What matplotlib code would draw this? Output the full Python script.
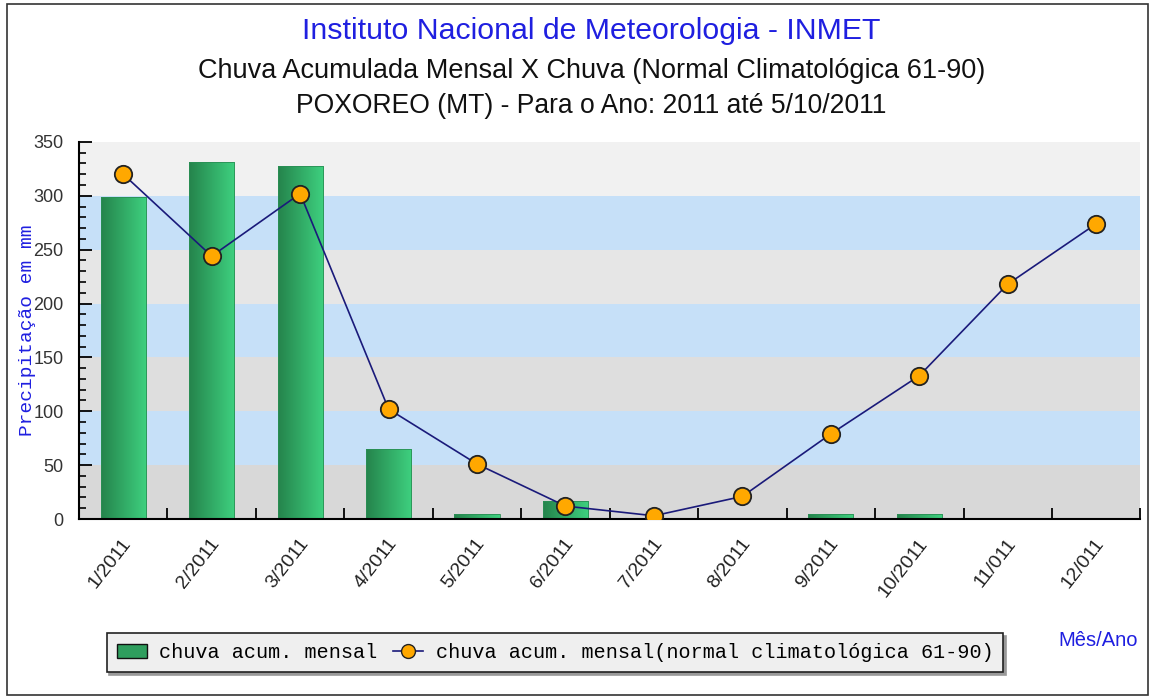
import matplotlib
matplotlib.use('Agg')
import matplotlib.pyplot as plt
import numpy as np
from matplotlib.patches import Rectangle

meses = ['1/2011', '2/2011', '3/2011', '4/2011', '5/2011', '6/2011',
         '7/2011', '8/2011', '9/2011', '10/2011', '11/011', '12/011']
chuva_mensal = [299, 331, 328, 65, 5, 17, 0, 0, 5, 5, 0, 0]
chuva_normal = [320, 244, 302, 102, 51, 12, 3, 21, 79, 133, 218, 274]

BLUE_TXT = '#1f1fe0'
SANS = ['Liberation Sans', 'DejaVu Sans']
MONO = ['Liberation Mono', 'DejaVu Sans Mono']

fig = plt.figure(figsize=(11.55, 6.99), dpi=100)
fig.patch.set_facecolor('white')
ax = fig.add_axes([0.0684, 0.2575, 0.919, 0.5395])

x = np.arange(len(meses))

# faixas de fundo
bands = ['#d8d8d8', '#c6e0f8', '#dedede', '#c6e0f8', '#e6e6e6', '#c6e0f8', '#f1f1f1']
for i, c in enumerate(bands):
    ax.axhspan(i * 50, (i + 1) * 50, color=c, zorder=0, lw=0)

# barras com gradiente
bars = ax.bar(x, chuva_mensal, width=0.51, color='none', edgecolor='#2a8f55',
              linewidth=0.6, zorder=2)
grad = np.linspace(0, 1, 64).reshape(1, -1)
cmap = matplotlib.colors.LinearSegmentedColormap.from_list('g', ['#25844c', '#3ed07f'])
for b in bars:
    h = b.get_height()
    if h <= 0:
        continue
    x0 = b.get_x()
    w = b.get_width()
    im = ax.imshow(grad, cmap=cmap, aspect='auto', extent=(x0, x0 + w, 0, h), zorder=1.5)
    im.set_clip_path(b)
ax.set_xlim(-0.5, len(meses) - 0.5)
ax.set_ylim(0, 350)

ax.plot(x, chuva_normal, color='#1a1a7a', lw=1.2, marker='o', markersize=12.5,
        markerfacecolor='#ffa800', markeredgecolor='#222222', markeredgewidth=1.3, zorder=3)

# eixos
for s in ['top', 'right']:
    ax.spines[s].set_visible(False)
ax.spines['left'].set_linewidth(1.5)
ax.spines['bottom'].set_linewidth(1.5)
ax.set_yticks(np.arange(0, 351, 50))
ax.set_yticks(np.arange(0, 351, 10), minor=True)
ax.tick_params(axis='y', which='major', direction='in', length=9, width=1.3,
               labelsize=13, labelcolor='#333333', pad=11)
ax.tick_params(axis='y', which='minor', direction='in', length=5, width=1.2)
for lbl in ax.get_yticklabels():
    lbl.set_family(SANS)

ax.set_xticks(np.arange(0.5, len(meses) - 0.5 + 0.01, 1.0))
ax.set_xticklabels([])
ax.tick_params(axis='x', direction='in', length=8, width=1.3)
for xi, m in zip(x, meses):
    ax.text(xi - 0.02, -15, m, rotation=52, ha='right', va='top', fontsize=14,
            family=SANS, color='#222222', rotation_mode='anchor')

ax.set_ylabel('Precipitação em mm', family=MONO, fontsize=14, color=BLUE_TXT, labelpad=-2)

# títulos
fig.text(0.512, 0.955, 'Instituto Nacional de Meteorologia - INMET', ha='center', va='center',
         fontsize=21.8, color=BLUE_TXT, family=SANS)
fig.text(0.512, 0.898, 'Chuva Acumulada Mensal X Chuva (Normal Climatológica 61-90)',
         ha='center', va='center', fontsize=19.5, color='#111111', family=SANS)
fig.text(0.512, 0.848, 'POXOREO (MT) - Para o Ano: 2011 até 5/10/2011',
         ha='center', va='center', fontsize=19.1, color='#111111', family=SANS)

fig.text(0.951, 0.084, 'Mês/Ano', ha='center', va='center', fontsize=14.5,
         color=BLUE_TXT, family=SANS)

# legenda
h_bar = Rectangle((0, 0), 1, 1, facecolor='#2f9e5e', edgecolor='#111111', lw=1)
h_line = plt.Line2D([], [], color='#1a1a7a', lw=1.2, marker='o', markersize=10,
                    markerfacecolor='#ffa800', markeredgecolor='#222222')
leg = fig.legend([h_bar, h_line],
                 ['chuva acum. mensal', 'chuva acum. mensal(normal climatológica 61-90)'],
                 loc='center left', bbox_to_anchor=(0.0835, 0.066), ncol=2,
                 frameon=True, fancybox=False, shadow={'color': '#999999', 'alpha': 1},
                 prop={'family': MONO, 'size': 14.5}, handlelength=1.5, handletextpad=0.6,
                 columnspacing=0.8, borderpad=0.5)
leg.get_frame().set_facecolor('#efefef')
leg.get_frame().set_edgecolor('#222222')
leg.get_frame().set_linewidth(1.2)
leg.get_frame().set_alpha(1)

# moldura externa
fig.patches.append(Rectangle((0.006, 0.006), 0.988, 0.988, transform=fig.transFigure,
                             fill=False, edgecolor='#333333', lw=1.2))

fig.savefig('out.png', dpi=100, facecolor='white')
